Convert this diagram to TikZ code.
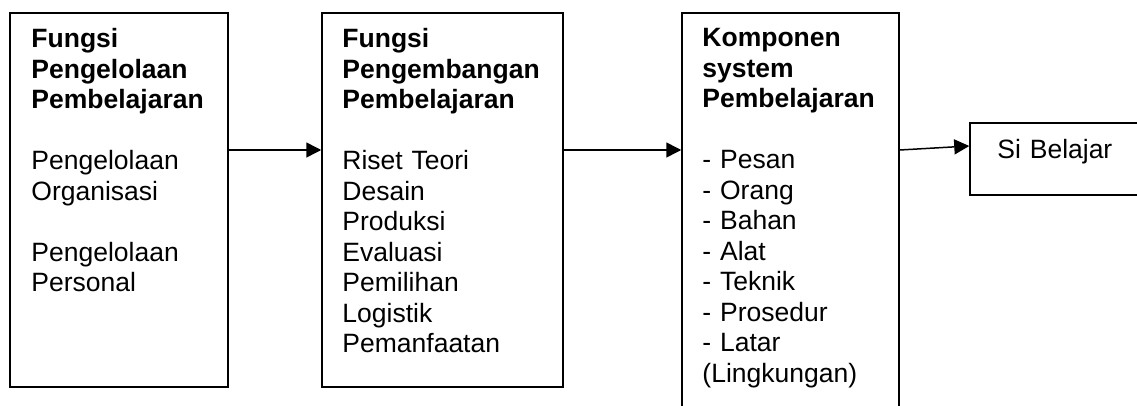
\documentclass[tikz,border=0pt]{standalone}
\usepackage{fontspec}
\setmainfont{Liberation Sans}
\usetikzlibrary{arrows.meta,positioning}

\begin{document}
\begin{tikzpicture}[x=1pt,y=-1pt,font=\fontsize{26.5}{30.5}\selectfont,
  box/.style={draw,line width=1.5pt,minimum width=#1,inner sep=0pt},
  txt/.style={anchor=north west,align=left,inner sep=0pt,text width=210pt},
  arr/.style={line width=1.5pt,-{Triangle[length=15pt,width=15pt]}}]
\clip (0,0) rectangle (1137,406);
% kotak
\node[box=218pt,minimum height=374pt] (kelola) at (119,200) {};
\node[box=241pt,minimum height=374pt] (kembang) at (442.5,200) {};
\node[box=217pt,minimum height=407pt] (komp) at (790.5,216.5) {};
\node[box=180pt,minimum height=72pt] (siswa) at (1060,159) {};
% isi
\node[txt] (t1) at ([shift={(22,16)}]kelola.north west)
  {{\bfseries Fungsi}\\{\bfseries Pengelolaan}\\{\bfseries Pembelajaran}\\[30.5pt]
   Pengelolaan\\Organisasi\\[30.5pt]Pengelolaan\\Personal};
\node[txt] (t2) at ([shift={(21,16)}]kembang.north west)
  {{\bfseries Fungsi}\\{\bfseries Pengembangan}\\{\bfseries Pembelajaran}\\[30.5pt]
   Riset Teori\\Desain\\Produksi\\Evaluasi\\Pemilihan\\Logistik\\Pemanfaatan};
\node[txt] (t3) at ([shift={(21,16)}]komp.north west)
  {{\bfseries Komponen}\\{\bfseries system}\\{\bfseries Pembelajaran}\\[30.5pt]
   - Pesan\\- Orang\\- Bahan\\- Alat\\- Teknik\\- Prosedur\\- Latar\\(Lingkungan)};
\node[txt] (t4) at ([shift={(28,17)}]siswa.north west) {Si Belajar};
% panah
\draw[arr] ([yshift=50pt]kelola.east) -- ([yshift=50pt]kembang.west);
\draw[arr] ([yshift=50pt]kembang.east) -- ([yshift=66.5pt]komp.west);
\draw[arr] ([yshift=66.5pt]komp.east) -- ([yshift=13pt]siswa.west);
\end{tikzpicture}
\end{document}
